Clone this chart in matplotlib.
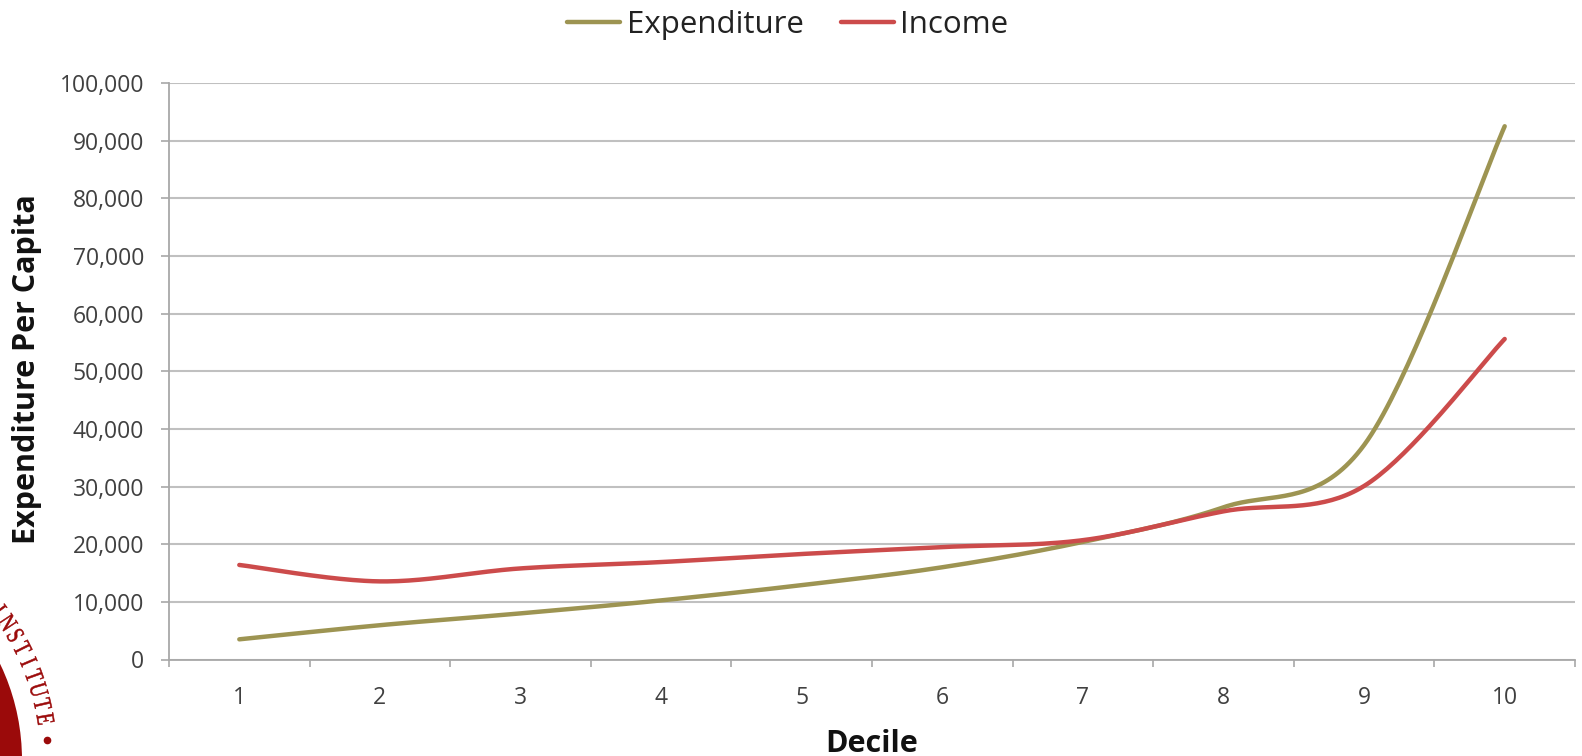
import numpy as np
import matplotlib.pyplot as plt
from matplotlib.patches import Circle, PathPatch
from matplotlib.textpath import TextPath
from matplotlib.font_manager import FontProperties
from matplotlib.transforms import Affine2D
from matplotlib.ticker import FuncFormatter, MultipleLocator

plt.rcParams['font.family'] = ['Open Sans', 'DejaVu Sans']

deciles = [1, 2, 3, 4, 5, 6, 7, 8, 9, 10]
expenditure = [3500, 5950, 8000, 10250, 12900, 16000, 20400, 26400, 37200, 92500]
income = [16400, 13550, 15800, 16900, 18300, 19500, 20700, 25700, 30100, 55600]

exp_color = '#9d9452'
inc_color = '#cc4b4b'
grid_color = '#c0c0c0'
seal_color = '#9b0a0a'

W, H = 1582, 756


def smooth(xs, ys, steps=40):
    # bezier segments between neighbours, handles taken from the points either side
    p = np.column_stack([xs, ys]).astype(float)
    p = np.vstack([p[0], p, p[-1]])
    t = np.linspace(0, 1, steps)[:, None]
    parts = []
    for i in range(1, len(p) - 2):
        a, b = p[i], p[i + 1]
        c0 = a + (p[i + 1] - p[i - 1]) / 6
        c1 = b - (p[i + 2] - p[i]) / 6
        seg = (1 - t) ** 3 * a + 3 * (1 - t) ** 2 * t * c0 + 3 * (1 - t) * t ** 2 * c1 + t ** 3 * b
        parts.append(seg if i == 1 else seg[1:])
    out = np.vstack(parts)
    return out[:, 0], out[:, 1]


def arc_letter(ax, ch, cx, cy, r, deg, size=25.5, squeeze=0.74):
    # one glyph sitting on a circle, tops pointing outward (axes are in pixels, y down)
    prop = FontProperties(family='Liberation Serif')
    path = TextPath((0, 0), ch, size=size, prop=prop)
    cap = TextPath((0, 0), 'E', size=size, prop=prop).get_extents().height
    ext = path.get_extents()
    tr = (Affine2D()
          .translate(-(ext.x0 + ext.x1) / 2, -cap / 2)
          .scale(squeeze, -1)
          .rotate_deg(90 - deg)
          .translate(cx + r * np.cos(np.radians(deg)), cy - r * np.sin(np.radians(deg))))
    ax.add_patch(PathPatch(tr.transform_path(path), color=seal_color, lw=0.4))


fig = plt.figure(figsize=(W / 100, H / 100), dpi=100)

# seal in the lower left corner, drawn in pixel units
seal = fig.add_axes([0, 0, 1, 1], zorder=0)
seal.set_xlim(0, W)
seal.set_ylim(H, 0)
seal.axis('off')
cx, cy = -200, 760
seal.add_patch(Circle((cx, cy), 222, color=seal_color, lw=0))
for k, ch in enumerate('INSTITUTE'):
    arc_letter(seal, ch, cx, cy, 249, 36.9 - 3.42 * k)
th = np.radians(4.6)
seal.plot([cx + 248 * np.cos(th)], [cy - 248 * np.sin(th)], 'o',
          color=seal_color, ms=4.5)

ax = fig.add_axes([169 / W, 1 - 659.5 / H, 1406 / W, 576.5 / H], zorder=1)
ax.set_facecolor('none')

x, y = smooth(deciles, expenditure)
ax.plot(x, y, color=exp_color, lw=3.2, solid_capstyle='round', label='Expenditure')
x, y = smooth(deciles, income)
ax.plot(x, y, color=inc_color, lw=3.2, solid_capstyle='round', label='Income')

ax.set_xlim(0.5, 10.5)
ax.set_ylim(0, 100000)
ax.yaxis.set_major_locator(MultipleLocator(10000))
ax.yaxis.set_major_formatter(FuncFormatter(lambda v, _: '{:,.0f}'.format(v)))
ax.set_xticks(deciles)
ax.set_xticks(np.arange(0.5, 11, 1), minor=True)

ax.grid(axis='y', color=grid_color, lw=1.5)
ax.set_axisbelow(True)
for side in ['top', 'right']:
    ax.spines[side].set_visible(False)
for side in ['left', 'bottom']:
    ax.spines[side].set_color('#a8a8a8')
    ax.spines[side].set_linewidth(1.3)

ax.tick_params(axis='y', direction='out', length=5.8, width=1.2, color='#a8a8a8',
               labelsize=16.5, labelcolor='#404040', pad=12)
ax.tick_params(axis='x', which='major', length=0, labelsize=16.5,
               labelcolor='#404040', pad=19)
ax.tick_params(axis='x', which='minor', direction='out', length=5, width=1.2,
               color='#a8a8a8')

fig.text(872 / W, 1 - 752 / H, 'Decile', ha='center', va='baseline',
         fontsize=22, fontweight='bold', color='#111111')
fig.text(27 / W, 1 - 369 / H, 'Expenditure Per Capita', rotation=90,
         ha='center', va='center', fontsize=22, fontweight='bold', color='#111111')

fig.legend(loc='center', bbox_to_anchor=(0.498, 1 - 25 / H), ncol=2, frameon=False,
           fontsize=22.5, handlelength=1.7, handletextpad=0.2, columnspacing=1.2,
           borderpad=0, labelcolor='#222222')

fig.savefig('out.png', dpi=100, facecolor='white')
